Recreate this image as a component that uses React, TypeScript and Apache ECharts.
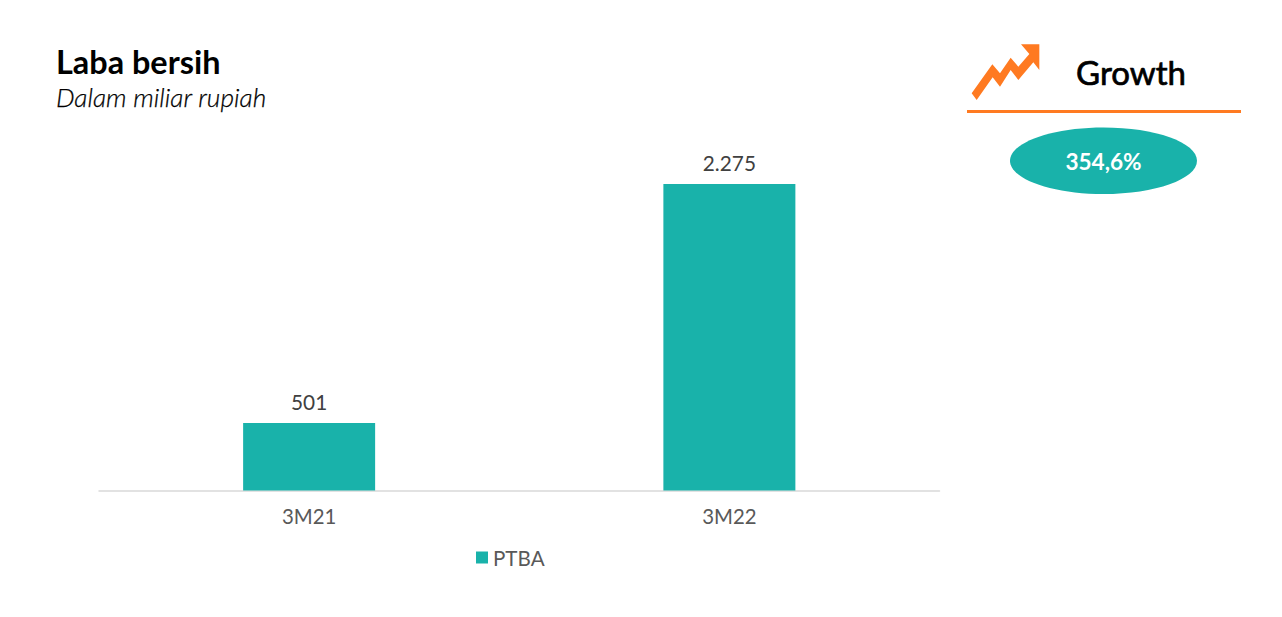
import React, { useEffect, useRef } from "react";
import * as echarts from "echarts";

const categories = ["3M21", "3M22"];
const ptbaValues = [501, 2275];
const seriesName = "PTBA";
const titleText = "Laba bersih";
const subtitleText = "Dalam miliar rupiah";
const growthLabel = "Growth";
const growthValue = "354,6%";
const TEAL = "#19B2AA";
const ORANGE = "#FF7A21";
const FONT = "Lato, sans-serif";

const arrowZoom = [
  [65, 190], [127, 103], [150, 130], [182, 83], [205, 110], [238, 72], [213, 43], [268, 43],
  [268, 120], [250, 97], [205, 150], [182, 120], [150, 170], [128, 142], [80, 210],
];
const arrowPoints = arrowZoom.map(([x, y]) => [x / 3 + 950, y / 3 + 30]);

const fmt = (v: number) => String(v).replace(/\B(?=(\d{3})+(?!\d))/g, ".");

export default function App() {
  const ref = useRef<HTMLDivElement>(null);
  useEffect(() => {
    const chart = echarts.init(ref.current!, null, { renderer: "svg" });
    chart.setOption({
      animation: false,
      backgroundColor: "#ffffff",
      grid: { left: 99, right: 342.5, top: 153.6, bottom: 126.5 },
      legend: {
        data: [seriesName],
        left: 471,
        top: 542,
        icon: "rect",
        itemWidth: 12,
        itemHeight: 12,
        itemGap: 5,
        textStyle: { fontFamily: FONT, fontSize: 20.6, color: "#595959", padding: [0, 0, 0, 0] },
      },
      xAxis: {
        type: "category",
        data: categories,
        axisTick: { show: false },
        axisLine: { lineStyle: { color: "#D9D9D9", width: 1.5 } },
        axisLabel: { fontFamily: FONT, fontSize: 20.4, color: "#595959", margin: 15 },
      },
      yAxis: { type: "value", min: 0, max: 2500, show: false, splitLine: { show: false } },
      series: [
        {
          name: seriesName,
          type: "bar",
          data: ptbaValues,
          barWidth: 132,
          itemStyle: { color: TEAL },
          label: {
            show: true,
            position: "top",
            distance: 10.5,
            fontFamily: FONT,
            fontSize: 20.8,
            color: "#404040",
            formatter: (p: any) => fmt(p.value),
          },
        },
      ],
      graphic: [
        { type: "text", x: 56, y: 45.5, style: { text: titleText, fontFamily: FONT, fontSize: 32.4, fontWeight: "bold", fill: "#000" } },
        { type: "text", x: 56, y: 83.5, style: { text: subtitleText, fontFamily: FONT, fontSize: 26.3, fontStyle: "italic", fontWeight: 300, fill: "#000", stroke: "#000", lineWidth: 0.25 } },
        { type: "polygon", shape: { points: arrowPoints }, style: { fill: ORANGE } },
        { type: "text", x: 1131, y: 71.5, style: { text: growthLabel, fontFamily: FONT, fontSize: 33, fill: "#000", stroke: "#000", lineWidth: 0.7, align: "center", verticalAlign: "middle" } },
        { type: "line", shape: { x1: 967, y1: 111.5, x2: 1241, y2: 111.5 }, style: { stroke: ORANGE, lineWidth: 3 } },
        { type: "ellipse", shape: { cx: 1103.5, cy: 160.7, rx: 93.5, ry: 33.3 }, style: { fill: TEAL } },
        { type: "text", x: 1103.5, y: 161.5, style: { text: growthValue, fontFamily: FONT, fontSize: 22.6, fontWeight: "bold", fill: "#fff", align: "center", verticalAlign: "middle" } },
      ],
    });
    return () => chart.dispose();
  }, []);
  return <div ref={ref} style={{ position: "fixed", left: 0, top: 0, width: 1282, height: 617 }} />;
}
